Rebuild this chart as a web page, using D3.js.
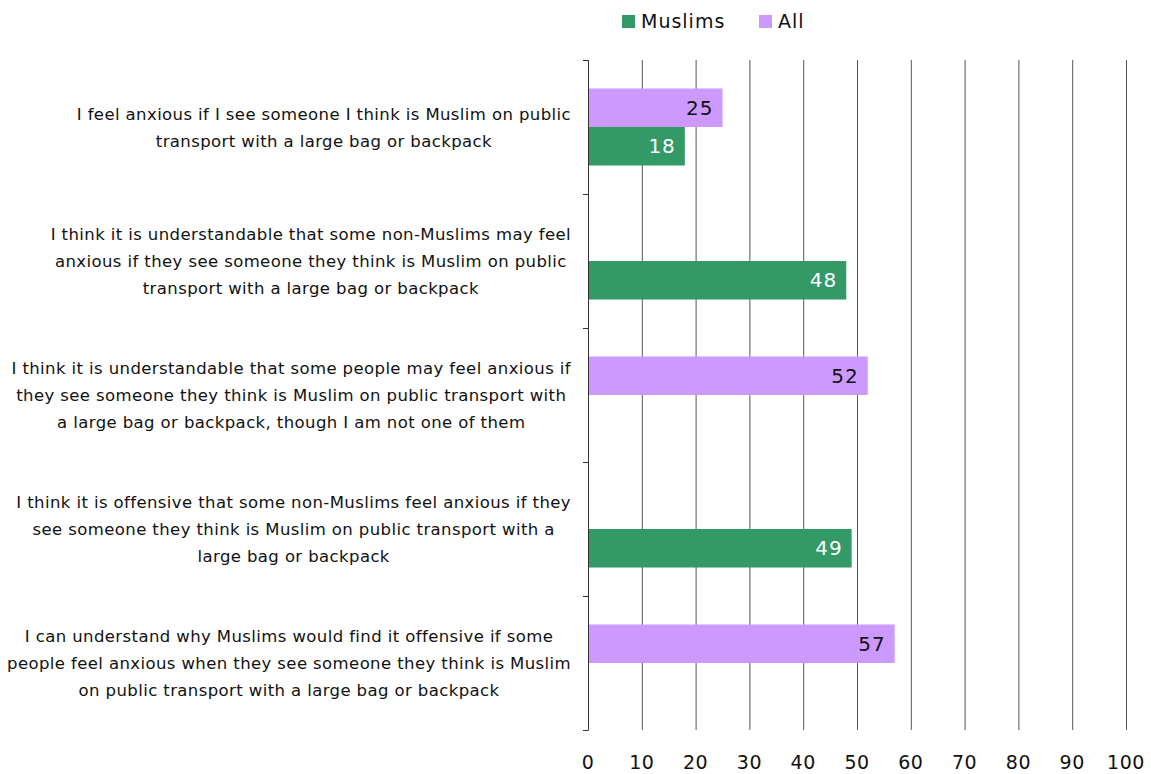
<!DOCTYPE html>
<html>
<head>
  <meta charset="utf-8" />
  <title>Anxiety on public transport</title>
  <script src="https://d3js.org/d3.v7.min.js"></script>
</head>
<body>
  <div id='graph'></div>
</body>
<style>
  body { margin: 0; background: #fff; }
  text { font-family: 'DejaVu Sans', sans-serif; }
</style>
<script>
  // data
  var categories = [
    ['I feel anxious if I see someone I think is Muslim on public',
     'transport with a large bag or backpack'],
    ['I think it is understandable that some non-Muslims may feel',
     'anxious if they see someone they think is Muslim on public',
     'transport with a large bag or backpack'],
    ['I think it is understandable that some people may feel anxious if',
     'they see someone they think is Muslim on public transport with',
     'a large bag or backpack, though I am not one of them'],
    ['I think it is offensive that some non-Muslims feel anxious if they',
     'see someone they think is Muslim on public transport with a',
     'large bag or backpack'],
    ['I can understand why Muslims would find it offensive if some',
     'people feel anxious when they see someone they think is Muslim',
     'on public transport with a large bag or backpack']
  ]
  var seriesNames = ['All', 'Muslims']
  var muslims = [18, 48, null, 49, null]
  var all = [25, null, 52, null, 57]
  var xTicks = [0, 10, 20, 30, 40, 50, 60, 70, 80, 90, 100]

  var colors = {Muslims: '#339966', All: '#cc99ff'}
  var labelColors = {Muslims: '#ffffff', All: '#111111'}

  var svg = d3.select('#graph').append('svg')
    .attr('width', 1151)
    .attr('height', 774)

  var x = d3.scaleLinear().domain([0, 100]).range([588, 1126])
  var y = d3.scaleBand().domain(d3.range(categories.length)).range([60, 730])
  var ySub = d3.scaleBand().domain(seriesNames)
    .range([0, y.bandwidth()]).paddingOuter(0.74)

  // vertical grid lines
  svg.append('g').selectAll('line')
    .data(xTicks.slice(1))
    .enter().append('line')
    .attr('x1', d => x(d) + 0.5).attr('x2', d => x(d) + 0.5)
    .attr('y1', 60).attr('y2', 730)
    .attr('stroke', '#555').attr('stroke-width', 1)

  // category axis with ticks between bands
  var axis = svg.append('g')
  axis.append('line')
    .attr('x1', x(0) + 0.5).attr('x2', x(0) + 0.5)
    .attr('y1', 60).attr('y2', 730)
    .attr('stroke', '#333')
  var bounds = d3.range(categories.length).map(i => y(i)).concat([y.range()[1]])
  axis.selectAll('.tk').data(bounds).enter().append('line')
    .attr('x1', x(0) - 5).attr('x2', x(0) + 0.5)
    .attr('y1', d => Math.round(d) + 0.5).attr('y2', d => Math.round(d) + 0.5)
    .attr('stroke', '#333')

  // x tick labels
  svg.append('g').selectAll('text')
    .data(xTicks)
    .enter().append('text')
    .attr('x', d => x(d))
    .attr('y', 769)
    .attr('text-anchor', 'middle')
    .attr('font-size', 19)
    .attr('letter-spacing', 0.5)
    .attr('fill', '#111')
    .text(d => d)

  // bars
  var rows = []
  categories.forEach(function (c, i) {
    if (all[i] != null) rows.push({i: i, s: 'All', v: all[i]})
    if (muslims[i] != null) rows.push({i: i, s: 'Muslims', v: muslims[i]})
  })

  var bars = svg.append('g')
  bars.selectAll('rect').data(rows).enter().append('rect')
    .attr('x', x(0) + 1)
    .attr('y', d => y(d.i) + ySub(d.s))
    .attr('width', d => x(d.v) - x(0) - 1)
    .attr('height', ySub.bandwidth())
    .attr('fill', d => colors[d.s])

  bars.selectAll('text').data(rows).enter().append('text')
    .attr('x', d => x(d.v) - 9)
    .attr('y', d => y(d.i) + ySub(d.s) + ySub.bandwidth() / 2 + 7)
    .attr('text-anchor', 'end')
    .attr('font-size', 20)
    .attr('letter-spacing', 1)
    .attr('fill', d => labelColors[d.s])
    .text(d => d.v)

  // category labels: lines centred inside a block whose right edge is fixed
  var labels = svg.append('g')
  categories.forEach(function (lines, i) {
    var t = labels.append('text')
      .attr('font-size', 16.5)
      .attr('letter-spacing', 0.4)
      .attr('fill', '#111')
      .attr('text-anchor', 'middle')
    var mid = y(i) + y.bandwidth() / 2
    lines.forEach(function (l, k) {
      t.append('tspan')
        .attr('y', mid + (k - (lines.length - 1) / 2) * 27 + 6)
        .text(l)
    })
    var maxW = 0
    t.selectAll('tspan').each(function () {
      maxW = Math.max(maxW, this.getComputedTextLength())
    })
    t.selectAll('tspan').attr('x', 571 - maxW / 2)
  })

  // legend
  var legendItems = [{s: 'Muslims', x: 622}, {s: 'All', x: 759}]
  var lg = svg.append('g')
  lg.selectAll('rect').data(legendItems).enter().append('rect')
    .attr('x', d => d.x).attr('y', 15)
    .attr('width', 13).attr('height', 13)
    .attr('fill', d => colors[d.s])
  lg.selectAll('text').data(legendItems).enter().append('text')
    .attr('x', d => d.x + 19).attr('y', 28)
    .attr('font-size', 19)
    .attr('letter-spacing', 1)
    .attr('fill', '#111')
    .text(d => d.s)
</script>
</html>
